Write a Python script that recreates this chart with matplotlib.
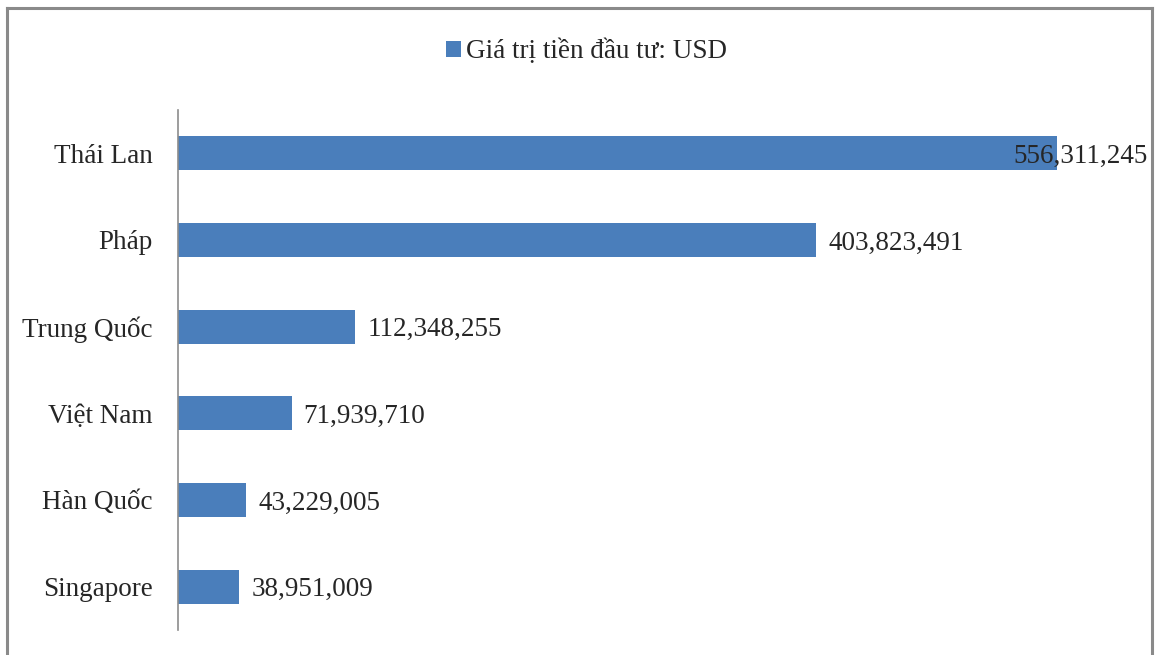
import matplotlib.pyplot as plt
from matplotlib.lines import Line2D

# Investment by partner country (USD)
countries = ['Thái Lan', 'Pháp', 'Trung Quốc', 'Việt Nam', 'Hàn Quốc', 'Singapore']
values = [556311245, 403823491, 112348255, 71939710, 43229005, 38951009]
series_name = 'Giá trị tiền đầu tư: USD'

plt.rcParams['font.family'] = ['Liberation Serif', 'DejaVu Serif']
bar_color = '#4A7EBB'
text_color = '#262626'

fig = plt.figure(figsize=(11.57, 6.55), dpi=100)
ax = fig.add_axes([0.1538, 0.0382, 0.8194, 0.7939])

ypos = list(range(len(countries)))
bars = ax.barh(ypos, values, height=0.39, color=bar_color, label=series_name)
ax.set_ylim(len(countries) - 0.5, -0.5)
ax.set_xlim(0, 600e6)

ax.set_yticks(ypos)
ax.set_yticklabels(countries, fontsize=19.5, color=text_color)
ax.tick_params(axis='y', length=0, pad=18)
ax.set_xticks([])
for side in ['top', 'right', 'bottom']:
    ax.spines[side].set_visible(False)
ax.spines['left'].set_color('#8C8C8C')
ax.spines['left'].set_linewidth(1.2)

# value labels; the longest one is pulled back inside the frame
for i, v in enumerate(values):
    dx = -44 if i == 0 else 12
    ax.annotate(f'{v:,}', xy=(v, i), xytext=(dx, -3), textcoords='offset pixels',
                ha='left', va='center', fontsize=19.5, color=text_color)

fig.legend(handles=[bars], labels=[series_name], loc='center',
           bbox_to_anchor=(0.507, 0.921), frameon=False, fontsize=19.5,
           handlelength=0.55, handleheight=0.55, handletextpad=0.2,
           labelcolor=text_color)

# outer frame (open at the bottom)
fc = '#8A8A8A'
fig.add_artist(Line2D([7 / 1157, 1152 / 1157], [1 - 8 / 655] * 2, color=fc, lw=2.2))
fig.add_artist(Line2D([7 / 1157] * 2, [0, 1 - 8 / 655], color=fc, lw=2.2))
fig.add_artist(Line2D([1152 / 1157] * 2, [0, 1 - 8 / 655], color=fc, lw=2.2))

fig.savefig('out.png', dpi=100)
